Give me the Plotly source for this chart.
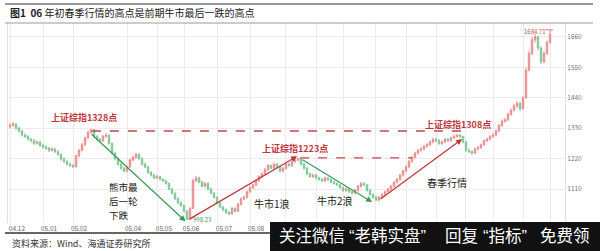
import plotly.graph_objects as go

# ---------------- data (2 trading days per candle) ----------------
opens = [1335,1340,1345,1330,1320,1305,1300,1290,1285,1275,
         1280,1268,1262,1258,1250,1255,1245,1235,1218,1210,
         1200,1195,1190,1230,1250,1270,1295,1315,1325,1300,
         1290,1285,1300,1305,1275,1240,1220,1200,1185,1175,
         1190,1215,1225,1235,1220,1200,1190,1170,1160,1150,
         1155,1145,1140,1130,1110,1095,1075,1060,1050,1030,
         1000,1040,1140,1150,1135,1120,1130,1110,1095,1080,
         1060,1045,1035,1025,1020,1040,1030,1055,1075,1080,
         1100,1115,1125,1140,1155,1165,1180,1195,1185,1200,
         1190,1175,1185,1200,1195,1210,1215,1220,1200,1185,
         1165,1155,1160,1150,1145,1140,1150,1145,1135,1130,
         1125,1115,1105,1110,1100,1095,1105,1120,1130,1125,
         1105,1090,1080,1070,1080,1090,1100,1110,1120,1135,
         1145,1160,1175,1190,1210,1225,1240,1250,1255,1265,
         1270,1280,1290,1285,1275,1280,1290,1285,1295,1300,
         1305,1300,1280,1250,1245,1240,1255,1260,1270,1285,
         1290,1300,1305,1320,1340,1355,1360,1380,1395,1410,
         1420,1400,1440,1540,1600,1650,1660,1620,1570,1600,
         1640]
closes = [1340,1345,1330,1320,1305,1300,1290,1285,1275,1280,
          1268,1262,1258,1250,1255,1245,1235,1218,1210,1200,
          1195,1190,1230,1250,1270,1295,1315,1325,1300,1290,
          1285,1300,1305,1275,1240,1220,1200,1185,1175,1190,
          1215,1225,1235,1220,1200,1190,1170,1160,1150,1155,
          1145,1140,1130,1110,1095,1075,1060,1050,1030,1000,
          1040,1140,1150,1135,1120,1130,1110,1095,1080,1060,
          1045,1035,1025,1020,1040,1030,1055,1075,1080,1100,
          1115,1125,1140,1155,1165,1180,1195,1185,1200,1190,
          1175,1185,1200,1195,1210,1215,1220,1200,1185,1165,
          1155,1160,1150,1145,1140,1150,1145,1135,1130,1125,
          1115,1105,1110,1100,1095,1105,1120,1130,1125,1105,
          1090,1080,1070,1080,1090,1100,1110,1120,1135,1145,
          1160,1175,1190,1210,1225,1240,1250,1255,1265,1270,
          1280,1290,1285,1275,1280,1290,1285,1295,1300,1305,
          1300,1280,1250,1245,1240,1255,1260,1270,1285,1290,
          1300,1305,1320,1340,1355,1360,1380,1395,1410,1420,
          1400,1440,1540,1600,1650,1660,1620,1570,1600,1640,
          1670]
highs = [1348,1352,1350,1336,1324,1312,1306,1296,1290,1286,
         1284,1274,1268,1262,1261,1259,1250,1238,1224,1214,
         1206,1200,1234,1255,1276,1300,1320,1328,1327,1306,
         1296,1306,1312,1308,1278,1245,1224,1205,1190,1195,
         1220,1230,1242,1240,1224,1206,1194,1175,1165,1162,
         1158,1150,1144,1134,1114,1098,1080,1066,1054,1034,
         1045,1146,1158,1155,1140,1136,1134,1115,1100,1084,
         1065,1050,1040,1030,1045,1044,1060,1080,1086,1105,
         1120,1130,1145,1160,1170,1186,1200,1199,1206,1204,
         1194,1190,1205,1206,1215,1220,1223.57,1222,1204,1190,
         1170,1166,1164,1155,1150,1155,1154,1148,1140,1135,
         1128,1120,1116,1114,1105,1110,1125,1136,1135,1128,
         1110,1094,1085,1085,1095,1105,1115,1125,1140,1150,
         1165,1180,1195,1215,1230,1245,1256,1262,1270,1276,
         1286,1296,1294,1290,1286,1296,1295,1300,1305,1308,
         1308,1303,1284,1256,1250,1260,1266,1275,1290,1296,
         1306,1312,1325,1345,1362,1368,1386,1402,1418,1428,
         1425,1446,1548,1610,1660,1672,1665,1625,1608,1648,
         1684.71]
lows = [1330,1336,1325,1314,1300,1294,1285,1278,1270,1270,
        1262,1256,1252,1244,1246,1240,1230,1212,1204,1195,
        1190,1186,1188,1226,1246,1266,1290,1310,1295,1284,
        1278,1280,1296,1270,1235,1214,1195,1180,1170,1170,
        1186,1210,1220,1215,1195,1185,1165,1155,1145,1146,
        1140,1135,1125,1105,1090,1070,1055,1045,1025,998.23,
        999,1038,1135,1130,1115,1116,1105,1090,1075,1055,
        1040,1030,1020,1015,1017,1025,1027,1050,1070,1076,
        1096,1110,1120,1136,1150,1160,1176,1180,1180,1185,
        1170,1171,1180,1190,1190,1205,1210,1195,1180,1160,
        1150,1150,1145,1140,1135,1136,1140,1130,1125,1120,
        1110,1100,1100,1095,1090,1090,1100,1115,1120,1100,
        1085,1075,1067,1066,1075,1086,1096,1105,1115,1130,
        1140,1155,1170,1186,1205,1220,1235,1245,1250,1260,
        1265,1275,1280,1270,1270,1276,1280,1280,1290,1296,
        1294,1275,1245,1240,1235,1236,1250,1255,1266,1280,
        1286,1295,1300,1315,1335,1350,1355,1375,1390,1404,
        1392,1398,1438,1535,1595,1640,1612,1562,1565,1595,
        1635]
x_idx = list(range(len(closes)))

# month starts (candle index) used for vertical grid lines
month_grid = [0.3, 11, 21, 39, 49.3, 58.3, 69.3, 80, 91.7, 102.3, 111, 121.7,
              132.3, 142.3, 151.7, 161.3, 171, 180.3]
# visible month labels (the rest sit under the banner)
label_months = [0.3, 11, 21, 39, 49.3, 58.3, 69.3, 80]
month_labels = ["04.12", "05.01", "05.02", "05.04", "05.05", "05.06", "05.07", "05.08"]
y_ticks = [1110, 1220, 1330, 1440, 1550, 1660]

# key levels / points
high_1328 = 1320
high_1223 = 1223
low_998 = 998.23
peak_1684 = 1684.71

RED = "#c0343c"
GREEN = "#3a9a5a"
FONT = "Noto Sans CJK SC, Noto Sans, sans-serif"
WM_FONT = "Liberation Sans, Noto Sans CJK SC, sans-serif"

fig = go.Figure()
fig.add_trace(go.Candlestick(
    x=x_idx, open=opens, high=highs, low=lows, close=closes,
    increasing=dict(line=dict(color="#e98b8d", width=1), fillcolor="#f2b3b4"),
    decreasing=dict(line=dict(color="#7cc592", width=1), fillcolor="#a6dbb5"),
    whiskerwidth=0, hoverinfo="skip", showlegend=False,
))

W, H = 600, 251
L, R, T, B = 8, 35, 23, 28
pw = W - L - R
ph = H - T - B


def px(xp):
    return (xp - L) / pw


def py(yp):
    return (H - B - yp) / ph


shapes = []
shapes.append(dict(type="line", xref="paper", yref="paper", x0=px(5), x1=px(593),
                   y0=py(4), y1=py(4), line=dict(color="#777777", width=1.5)))
shapes.append(dict(type="line", xref="paper", yref="paper", x0=px(5), x1=px(593),
                   y0=py(23), y1=py(23), line=dict(color="#999999", width=1)))
shapes.append(dict(type="line", xref="paper", yref="paper", x0=px(5), x1=px(600),
                   y0=py(233), y1=py(233), line=dict(color="#333333", width=1.5)))
shapes.append(dict(type="line", xref="x", yref="y", x0=27.3, x1=152.7,
                   y0=high_1328, y1=high_1328, line=dict(color="#c9464c", width=1.3, dash="dash")))
shapes.append(dict(type="line", xref="x", yref="y", x0=96.7, x1=134,
                   y0=high_1223, y1=high_1223, line=dict(color="#c9464c", width=1.3, dash="dash")))
shapes.append(dict(type="line", xref="x", yref="y", x0=178.3, x1=181,
                   y0=1686, y1=1686, line=dict(color="#d06060", width=0.8)))
shapes.append(dict(type="rect", xref="paper", yref="paper", x0=px(270), x1=px(601),
                   y0=py(222), y1=py(252), fillcolor="#111111", line=dict(width=0), layer="above"))

ann = []
ann.append(dict(xref="paper", yref="paper", x=px(8), y=py(13), xanchor="left", yanchor="middle",
                text="<b>图1</b>  <b>06</b> 年初春季行情的高点是前期牛市最后一跌的高点",
                showarrow=False, font=dict(family=FONT, size=10, color="#222222")))
ann.append(dict(xref="paper", yref="paper", x=px(10), y=py(243), xanchor="left", yanchor="middle",
                text="资料来源：Wind、海通证券研究所", showarrow=False,
                font=dict(family=FONT, size=9, color="#333333")))
for tx, xx, yy in [("上证综指1328点", 24.7, 1370), ("上证综指1223点", 95, 1258),
                   ("上证综指1308点", 149.3, 1345)]:
    ann.append(dict(x=xx, y=yy, xref="x", yref="y", text="<b>" + tx + "</b>", showarrow=False,
                    font=dict(family=FONT, size=9, color=RED)))
# "熊市最后一轮下跌" written in three short lines
for tx, yy in [("熊市最", 1117), ("后一轮", 1067), ("下跌", 1016)]:
    ann.append(dict(x=32.7, y=yy, xref="x", yref="y", xanchor="left", text=tx, showarrow=False,
                    borderpad=0, font=dict(family=FONT, size=9.5, color="#222222")))
ann.append(dict(x=87.2, y=1056, xref="x", yref="y", text="牛市1浪", showarrow=False,
                font=dict(family=FONT, size=10, color="#222222")))
ann.append(dict(x=108.3, y=1067, xref="x", yref="y", text="牛市2浪", showarrow=False,
                font=dict(family=FONT, size=10, color="#222222")))
ann.append(dict(x=145.8, y=1135, xref="x", yref="y", text="春季行情", showarrow=False,
                font=dict(family=FONT, size=10, color="#222222")))
ann.append(dict(x=64, y=low_998, xref="x", yref="y", text="998.23", showarrow=False,
                font=dict(family=FONT, size=6, color="#4a9a5a")))
ann.append(dict(x=175, y=1680, xref="x", yref="y", text="1684.71", showarrow=False,
                font=dict(family=FONT, size=6, color="#c85050")))
for (x0, y0, x1, y1, col) in [(26.7, 1313, 58.5, 993, GREEN),
                              (59.3, 998, 95.7, 1229, RED),
                              (97, 1219, 120.7, 1063, GREEN),
                              (123, 1070, 150.7, 1291, RED)]:
    ann.append(dict(x=x1, y=y1, ax=x0, ay=y0, xref="x", yref="y", axref="x", ayref="y",
                    text="", showarrow=True, arrowhead=2, arrowsize=1, arrowwidth=1.2,
                    arrowcolor=col))
# banner text, placed piece by piece
for tx, xp in [("关注微信", 277), ("“老韩实盘”", 347), ("回复", 443), ("“指标”", 481),
               ("免费领", 538)]:
    ann.append(dict(xref="paper", yref="paper", x=px(xp), y=py(236), xanchor="left",
                    yanchor="middle", text=tx, showarrow=False,
                    font=dict(family=WM_FONT, size=16.5, color="#ffffff")))

fig.update_layout(
    width=W, height=H, margin=dict(l=L, r=R, t=T, b=B),
    paper_bgcolor="white", plot_bgcolor="white",
    showlegend=False, hovermode=False,
    shapes=shapes, annotations=ann,
    xaxis=dict(range=[-0.667, 185], rangeslider=dict(visible=False),
               tickmode="array", tickvals=[m + 2 for m in label_months], ticktext=month_labels,
               showgrid=False, zeroline=False, showline=False, ticks="",
               tickfont=dict(family=FONT, size=6.5, color="#666666"),
               minor=dict(tickmode="array", tickvals=month_grid, showgrid=True,
                          gridcolor="#ececec", gridwidth=1, ticks="")),
    yaxis=dict(range=[987.1, 1710.6], side="right", tickmode="array", tickvals=y_ticks,
               showgrid=True, gridcolor="#ececec", zeroline=False,
               showline=True, mirror=True, linecolor="#e2e2e2", ticks="",
               tickfont=dict(family=FONT, size=6.5, color="#777777")),
)

fig.write_html("out.html")
